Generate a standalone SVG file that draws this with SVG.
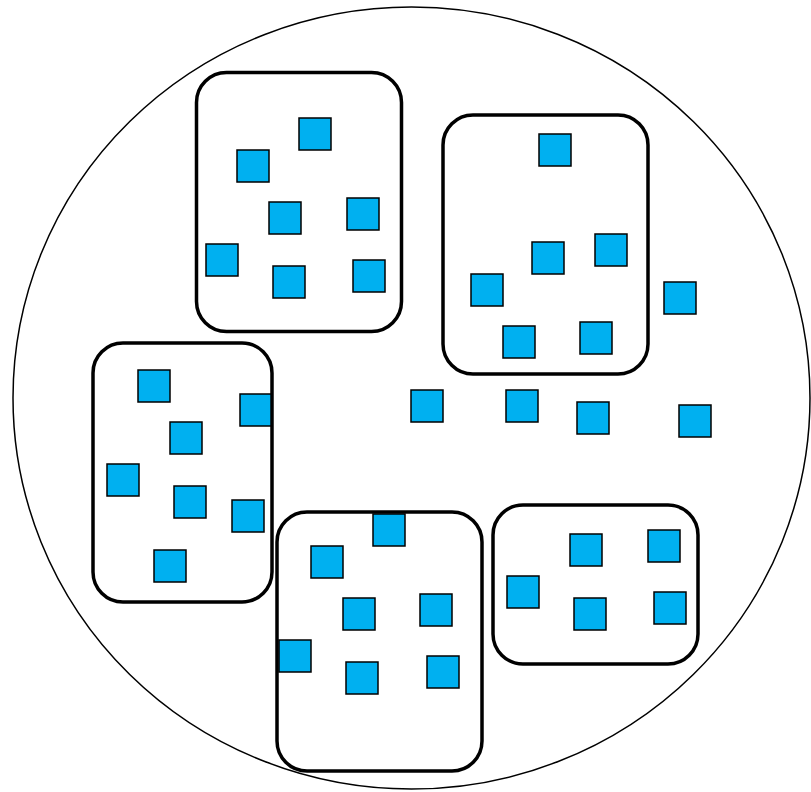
<svg xmlns="http://www.w3.org/2000/svg" width="811" height="792" viewBox="0 0 811 792">
<style>
.sq{fill:#00b0f0;stroke:#000;stroke-width:1.5}
.grp{fill:none;stroke:#000;stroke-width:3.5}
.outer{fill:#fff;stroke:#000;stroke-width:1.5}
</style>
<defs><rect id="s" width="32" height="32" class="sq"/></defs>
<rect width="811" height="792" fill="#fff"/>
<g id="outer"><ellipse class="outer" cx="411.5" cy="398" rx="398.5" ry="391"/></g>
<g id="group1">
<rect class="grp" x="196.5" y="72.5" width="205" height="259" rx="30"/>
<use href="#s" x="299" y="118"/><use href="#s" x="237" y="150"/><use href="#s" x="269" y="202"/><use href="#s" x="347" y="198"/><use href="#s" x="206" y="244"/><use href="#s" x="273" y="266"/><use href="#s" x="353" y="260"/>
</g>
<g id="group2">
<rect class="grp" x="443" y="115" width="205" height="259" rx="30"/>
<use href="#s" x="539" y="134"/><use href="#s" x="532" y="242"/><use href="#s" x="595" y="234"/><use href="#s" x="471" y="274"/><use href="#s" x="503" y="326"/><use href="#s" x="580" y="322"/>
</g>
<g id="group3">
<use href="#s" x="240" y="394"/>
<rect class="grp" x="93" y="343" width="179" height="259" rx="30"/>
<use href="#s" x="138" y="370"/><use href="#s" x="170" y="422"/><use href="#s" x="107" y="464"/><use href="#s" x="174" y="486"/><use href="#s" x="232" y="500"/><use href="#s" x="154" y="550"/>
</g>
<g id="group4">
<rect class="grp" x="277" y="512" width="205" height="259" rx="30"/>
<use href="#s" x="373" y="514"/><use href="#s" x="311" y="546"/><use href="#s" x="343" y="598"/><use href="#s" x="420" y="594"/><use href="#s" x="279" y="640"/><use href="#s" x="346" y="662"/><use href="#s" x="427" y="656"/>
</g>
<g id="group5">
<rect class="grp" x="493" y="505" width="205" height="159" rx="30"/>
<use href="#s" x="570" y="534"/><use href="#s" x="648" y="530"/><use href="#s" x="507" y="576"/><use href="#s" x="574" y="598"/><use href="#s" x="654" y="592"/>
</g>
<g id="free">
<use href="#s" x="664" y="282"/><use href="#s" x="411" y="390"/><use href="#s" x="506" y="390"/><use href="#s" x="577" y="402"/><use href="#s" x="679" y="405"/>
</g>
<g id="connectors"/>
</svg>
